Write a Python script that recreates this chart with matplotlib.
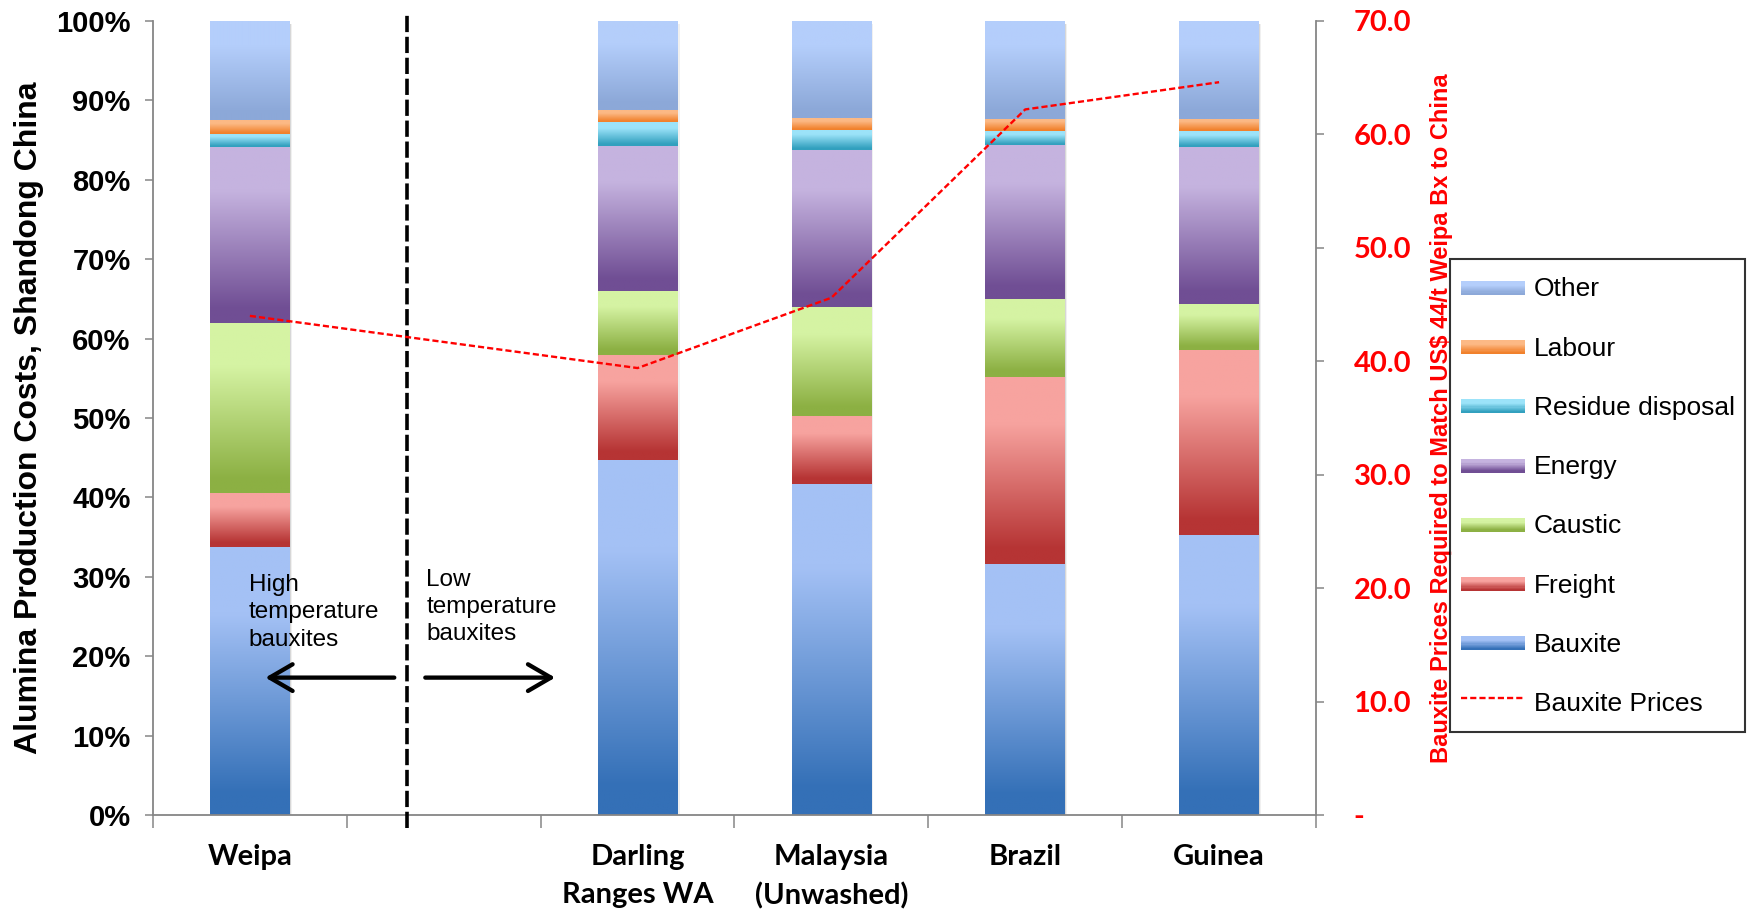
import numpy as np
import matplotlib
matplotlib.use("Agg")
import matplotlib.pyplot as plt
from matplotlib.colors import to_rgb
from matplotlib.patches import Rectangle
from matplotlib.lines import Line2D
from matplotlib.legend_handler import HandlerBase

sites = ["Weipa", "", "Darling\nRanges WA", "Malaysia\n(Unwashed)", "Brazil", "Guinea"]

# cost shares (%), bottom to top; the 2nd slot is an empty spacer
bauxite = [33.8, 0, 44.7, 41.7, 31.6, 35.2]
freight = [6.7, 0, 13.2, 8.5, 23.6, 23.4]
caustic = [21.4, 0, 8.1, 13.8, 9.8, 5.8]
energy = [22.2, 0, 18.3, 19.7, 19.4, 19.7]
residue = [1.7, 0, 3.0, 2.6, 1.7, 2.0]
labour = [1.7, 0, 1.5, 1.5, 1.6, 1.6]
other = [12.5, 0, 11.2, 12.2, 12.3, 12.3]

series_names = ["Bauxite", "Freight", "Caustic", "Energy", "Residue disposal", "Labour", "Other"]
series = [bauxite, freight, caustic, energy, residue, labour, other]

# US$/t needed to match Weipa
prices = [44.0, None, 39.4, 45.6, 62.2, 64.6]

# (top colour, bottom colour) of each gradient fill
shades = {
    "Bauxite": ("#A4C1F5", "#3470B7"),
    "Freight": ("#F7A39F", "#B63434"),
    "Caustic": ("#D5F3A3", "#8CB043"),
    "Energy": ("#C5B3DF", "#704E94"),
    "Residue disposal": ("#9CE3F9", "#32A0BE"),
    "Labour": ("#FCB985", "#F1812C"),
    "Other": ("#B4CEFB", "#8CA8D8"),
}

ARIAL = "Liberation Sans"
CALIBRI = "Lato"
GREY = "#868686"


def gradient(light, dark, n=100):
    s = np.linspace(0, 1, n)
    f = np.clip((s - 0.08) / 0.67, 0, 1)[:, None]
    lo, hi = np.array(to_rgb(dark)), np.array(to_rgb(light))
    return lo + (hi - lo) * f


class Swatch:
    def __init__(self, light, dark):
        self.light, self.dark = light, dark


class SwatchHandler(HandlerBase):
    def create_artists(self, legend, orig_handle, xdescent, ydescent,
                       width, height, fontsize, trans):
        n = 12
        h = fontsize * 0.52
        y0 = -ydescent + (height - h) / 2
        cols = gradient(orig_handle.light, orig_handle.dark, n)
        out = []
        for k in range(n):
            out.append(Rectangle((-xdescent, y0 + h * k / n), width, h / n + 0.1,
                                 facecolor=cols[k], edgecolor="none", transform=trans))
        return out


fig = plt.figure(figsize=(17.5, 9.11), dpi=100)
ax = fig.add_axes([0.0874, 0.1054, 0.6646, 0.8716])

x = np.arange(len(sites))
width = 0.41
bottom = np.zeros(len(sites))
for name, vals in zip(series_names, series):
    vals = np.array(vals, dtype=float)
    bars = ax.bar(x, vals, width, bottom=bottom, color="none", zorder=2)
    light, dark = shades[name]
    img = gradient(light, dark)[:, None, :]
    for b in bars:
        if b.get_height() <= 0:
            continue
        x0, y0 = b.get_x(), b.get_y()
        ax.imshow(img, extent=(x0, x0 + b.get_width(), y0, y0 + b.get_height()),
                  origin="lower", aspect="auto", interpolation="bilinear", zorder=2)
    bottom += vals

# soft shadow on the right of each bar
for xi, tot in zip(x, bottom):
    if tot <= 0:
        continue
    for dx, a in [(0.006, 0.10), (0.012, 0.06)]:
        ax.add_patch(Rectangle((xi - width / 2 + dx, -0.4), width, tot, facecolor="black",
                               alpha=a, edgecolor="none", zorder=1))

ax.set_xlim(-0.5, len(sites) - 0.5)
ax.set_ylim(0, 100)
ax.set_aspect("auto")

ax.set_yticks(range(0, 101, 10))
ax.set_yticklabels([f"{v}%" for v in range(0, 101, 10)], fontsize=21,
                   fontweight="bold", family=ARIAL)
ax.tick_params(axis="y", length=6, width=1.1, color=GREY, pad=10)

ax.set_xticks(np.arange(-0.5, len(sites), 1.0))
ax.set_xticklabels([])
ax.tick_params(axis="x", which="major", length=9, width=1.1, color=GREY)
ax.set_xticks(x, minor=True)
ax.set_xticklabels(sites, minor=True, fontsize=21, fontweight="bold", family=CALIBRI,
                   linespacing=1.55, va="top")
ax.tick_params(axis="x", which="minor", length=0, pad=21)

for sp in ["top", "right"]:
    ax.spines[sp].set_visible(False)
for sp in ["left", "bottom"]:
    ax.spines[sp].set_color(GREY)
    ax.spines[sp].set_linewidth(1.3)

ax.set_ylabel("Alumina Production Costs, Shandong China", fontsize=23,
              fontweight="bold", family=ARIAL)
ax.yaxis.set_label_coords(-0.0935, 0.5)

# separator between high and low temperature bauxites
ax.plot([0.81, 0.81], [-1.7, 100.7], color="black", lw=2.6, ls=(0, (4.5, 1.3)),
        clip_on=False, zorder=4)
arrow = dict(arrowstyle="->, head_length=0.55, head_width=0.32", lw=3.1, color="black",
             mutation_scale=30, shrinkA=0, shrinkB=0)
ax.annotate("", xy=(0.08, 17.3), xytext=(0.745, 17.3), arrowprops=arrow, zorder=5)
ax.annotate("", xy=(1.575, 17.3), xytext=(0.905, 17.3), arrowprops=arrow, zorder=5)
ax.text(-0.005, 30.3, "High\ntemperature\nbauxites", fontsize=17.5, family=ARIAL,
        va="top", ha="left", linespacing=1.3, zorder=5)
ax.text(0.91, 31.0, "Low\ntemperature\nbauxites", fontsize=17.5, family=ARIAL,
        va="top", ha="left", linespacing=1.3, zorder=5)

ax2 = ax.twinx()
px = [xi for xi, p in zip(x, prices) if p is not None]
py = [p for p in prices if p is not None]
ax2.plot(px, py, color="#FF0000", lw=1.7, ls=(0, (2.6, 1.3)), zorder=3)
ax2.set_ylim(0, 70)
ax2.set_yticks(range(0, 71, 10))
ax2.set_yticklabels(["-"] + [f"{v:.1f}" for v in range(10, 71, 10)], fontsize=21,
                    fontweight="bold", family=CALIBRI, color="#FF0000", ha="left")
ax2.tick_params(axis="y", length=6, width=1.1, color=GREY, pad=21)
for sp in ["top", "left", "bottom"]:
    ax2.spines[sp].set_visible(False)
ax2.spines["right"].set_color(GREY)
ax2.spines["right"].set_linewidth(1.3)
ax2.set_ylabel("Bauxite Prices Required to Match US$ 44/t Weipa Bx to China",
               fontsize=17, fontweight="bold", family=ARIAL, color="#FF0000")
ax2.yaxis.set_label_coords(1.098, 0.5)

handles = [Swatch(*shades[n]) for n in series_names[::-1]]
handles.append(Line2D([], [], color="#FF0000", lw=1.7, ls=(0, (2.6, 1.3))))
labels = series_names[::-1] + ["Bauxite Prices"]
leg = fig.legend(handles, labels, handler_map={Swatch: SwatchHandler()},
                 loc="upper left", bbox_to_anchor=(0.8286, 0.716),
                 bbox_transform=fig.transFigure, borderaxespad=0,
                 prop={"family": ARIAL, "size": 19}, frameon=True, fancybox=False,
                 handlelength=2.45, handleheight=1.8, handletextpad=0.32,
                 labelspacing=0.83, borderpad=0.4)
leg.get_frame().set_edgecolor("black")
leg.get_frame().set_linewidth(1.5)

fig.savefig("out.png", dpi=100)
